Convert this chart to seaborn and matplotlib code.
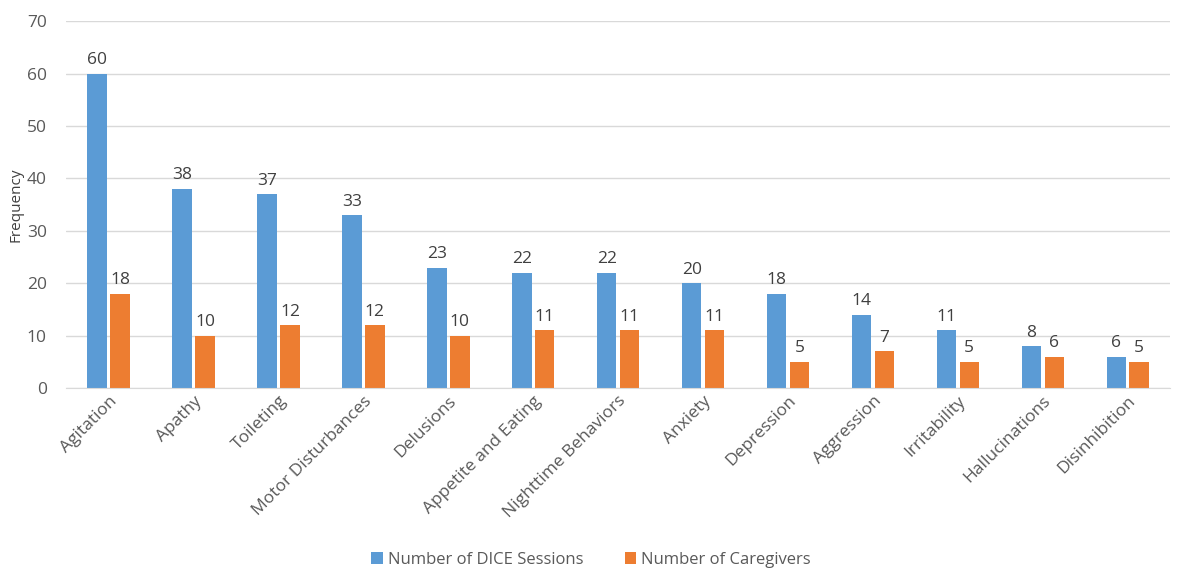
import matplotlib
matplotlib.use("Agg")
import matplotlib.pyplot as plt
import pandas as pd
import seaborn as sns

categorias = [
    "Agitation", "Apathy", "Toileting", "Motor Disturbances", "Delusions",
    "Appetite and Eating", "Nighttime Behaviors", "Anxiety", "Depression",
    "Aggression", "Irritability", "Hallucinations", "Disinhibition",
]
sesiones = [60, 38, 37, 33, 23, 22, 22, 20, 18, 14, 11, 8, 6]
cuidadores = [18, 10, 12, 12, 10, 11, 11, 11, 5, 7, 5, 6, 5]
series = ["Number of DICE Sessions", "Number of Caregivers"]
colores = ["#5B9BD5", "#ED7D31"]

datos = pd.DataFrame({
    "categoria": categorias * 2,
    "valor": sesiones + cuidadores,
    "serie": [series[0]] * len(categorias) + [series[1]] * len(categorias),
})

sns.set_style("white")
plt.rcParams["font.family"] = ["Open Sans", "DejaVu Sans"]

fig = plt.figure(figsize=(11.82, 5.70), dpi=100)
ax = fig.add_axes([0.056, 0.319, 0.934, 0.644])

sns.barplot(data=datos, x="categoria", y="valor", hue="serie",
            palette=colores, saturation=1, width=0.54, gap=0.15,
            linewidth=0, ax=ax, legend=True)

for contenedor in ax.containers:
    ax.bar_label(contenedor, padding=4, fontsize=12.5, color="#404040")

ax.set_ylim(0, 70)
ax.set_yticks(range(0, 71, 10))
ax.set_xlim(-0.5, len(categorias) - 0.5)
ax.yaxis.grid(True, color="#D9D9D9", linewidth=1)
ax.set_axisbelow(True)
for lado in ["top", "right", "left"]:
    ax.spines[lado].set_visible(False)
ax.spines["bottom"].set_color("#D9D9D9")
ax.tick_params(axis="both", length=0, labelsize=12.5, colors="#595959")
ax.tick_params(axis="y", pad=14)
plt.setp(ax.get_xticklabels(), rotation=45, ha="right", rotation_mode="anchor")
ax.set_xlabel("")
ax.set_ylabel("Frequency", fontsize=11, color="#404040", labelpad=2)

ax.legend(loc="center", bbox_to_anchor=(0.5, 0.018), bbox_transform=fig.transFigure,
          ncol=2, frameon=False, fontsize=12, labelcolor="#595959",
          handlelength=0.7, handleheight=0.7, handletextpad=0.3, columnspacing=2.5,
          borderpad=0.1)

fig.savefig("out.png", dpi=100)
